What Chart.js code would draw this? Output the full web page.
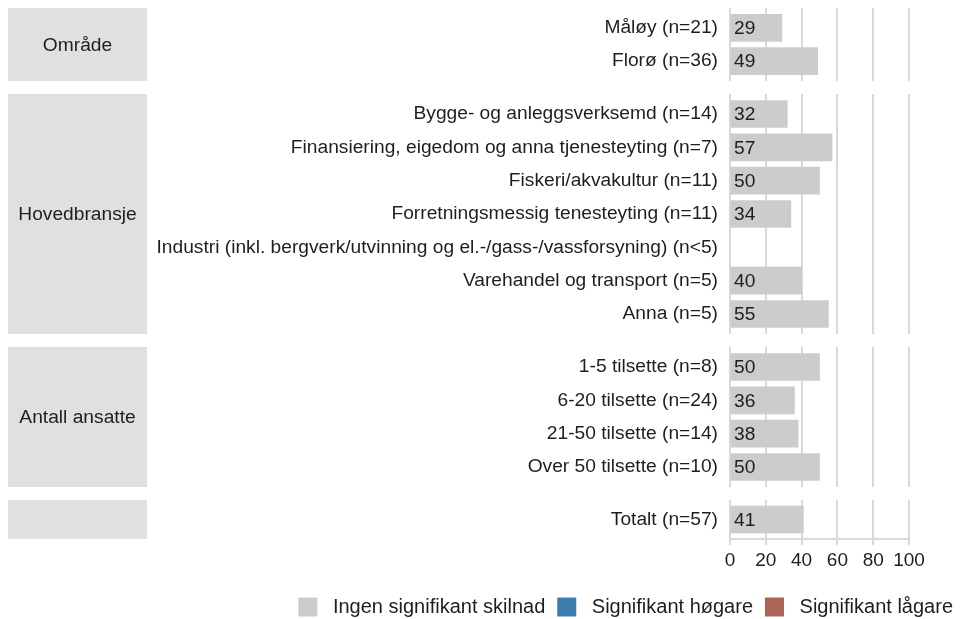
<!DOCTYPE html>
<html>
<head>
<meta charset="utf-8">
<script src="https://cdn.jsdelivr.net/npm/chart.js@4.4.1/dist/chart.umd.min.js"></script>
<style>
  html, body { margin: 0; padding: 0; background: #fff; overflow: hidden; }
  #wrap { position: relative; width: 962px; height: 619px; overflow: hidden; }
  .panel { position: absolute; left: 0; width: 965px; }
</style>
</head>
<body>
<div id="wrap"></div>
<script>
const FONT = "'Liberation Sans', Arial, sans-serif";

// facet groups (strip text on the left)
const stripNames = ["Område", "Hovedbransje", "Antall ansatte", ""];

const omradeLabels = ["Måløy (n=21)", "Florø (n=36)"];
const omradeValues = [29, 49];

const bransjeLabels = [
  "Bygge- og anleggsverksemd (n=14)",
  "Finansiering, eigedom og anna tjenesteyting (n=7)",
  "Fiskeri/akvakultur (n=11)",
  "Forretningsmessig tenesteyting (n=11)",
  "Industri (inkl. bergverk/utvinning og el.-/gass-/vassforsyning) (n<5)",
  "Varehandel og transport (n=5)",
  "Anna (n=5)"
];
const bransjeValues = [32, 57, 50, 34, null, 40, 55];

const ansatteLabels = ["1-5 tilsette (n=8)", "6-20 tilsette (n=24)", "21-50 tilsette (n=14)", "Over 50 tilsette (n=10)"];
const ansatteValues = [50, 36, 38, 50];

const totalLabels = ["Totalt (n=57)"];
const totalValues = [41];

const xTicks = [0, 20, 40, 60, 80, 100];

const legendLabels = ["Ingen signifikant skilnad", "Signifikant høgare", "Signifikant lågare"];
const legendColors = ["#cccccc", "#3d7cab", "#ab6455"];

const groups = [
  { labels: omradeLabels, values: omradeValues },
  { labels: bransjeLabels, values: bransjeValues },
  { labels: ansatteLabels, values: ansatteValues },
  { labels: totalLabels, values: totalValues }
];

// layout
const UNIT = 33.4;      // px per row
const TOP = 8;
const GAP = 13;
const AXIS_H = 46;      // tick marks + tick labels under last panel
const LEGEND_H = 41;
const GRID = "#d9d9d9";
const TEXT = "#1e1e1e";
const LABEL_SIZE = 19.2;

/* grey facet strip left of each panel */
const stripPlugin = {
  id: "strip",
  beforeDraw(chart, _args, opts) {
    const { ctx, chartArea: a } = chart;
    ctx.save();
    ctx.fillStyle = "#e0e0e0";
    ctx.fillRect(8, a.top, 139, a.bottom - a.top);
    if (opts.text) {
      ctx.fillStyle = TEXT;
      ctx.font = `${LABEL_SIZE}px ${FONT}`;
      ctx.textAlign = "center";
      ctx.textBaseline = "middle";
      ctx.fillText(opts.text, 77.5, (a.top + a.bottom) / 2 + 1);
    }
    ctx.restore();
  }
};

/* value printed at the left end of each bar */
const valueLabelPlugin = {
  id: "valueLabels",
  afterDatasetsDraw(chart) {
    const ctx = chart.ctx;
    const x0 = chart.scales.x.getPixelForValue(0);
    const ds = chart.data.datasets[0];
    const meta = chart.getDatasetMeta(0);
    ctx.save();
    ctx.fillStyle = TEXT;
    ctx.font = `${LABEL_SIZE}px ${FONT}`;
    ctx.textAlign = "left";
    ctx.textBaseline = "middle";
    meta.data.forEach((bar, i) => {
      const v = ds.data[i].x;
      if (v == null) return;
      ctx.fillText(String(v), x0 + 4, bar.y + 1);
    });
    ctx.restore();
  }
};
Chart.register(stripPlugin, valueLabelPlugin);

function noPad(s) {
  s.paddingTop = 0; s.paddingBottom = 0; s.paddingLeft = 0; s.paddingRight = 0;
}

function makePanel(idx, top) {
  const g = groups[idx];
  const n = g.labels.length;
  const last = idx === groups.length - 1;
  const h = Math.round((n + 0.2) * UNIT);

  const div = document.createElement("div");
  div.className = "panel";
  div.style.top = top + "px";
  div.style.height = (h + (last ? AXIS_H + LEGEND_H : 0)) + "px";
  const canvas = document.createElement("canvas");
  div.appendChild(canvas);
  document.getElementById("wrap").appendChild(div);

  const datasets = [{
    label: legendLabels[0],
    data: g.values.map((v, i) => ({ x: v, y: i })),
    backgroundColor: legendColors[0],
    barThickness: 27,
    grouped: false
  }];
  if (last) {
    // empty series so the legend lists every significance class
    for (let k = 1; k < legendLabels.length; k++) {
      datasets.push({ label: legendLabels[k], data: [], backgroundColor: legendColors[k], grouped: false });
    }
  }

  new Chart(canvas, {
    type: "bar",
    data: { datasets },
    options: {
      indexAxis: "y",
      responsive: true,
      maintainAspectRatio: false,
      animation: false,
      layout: { padding: 0 },
      scales: {
        x: {
          type: "linear",
          min: 0,
          max: 100,
          afterBuildTicks: s => { s.ticks = xTicks.map(v => ({ value: v })); },
          grid: { color: GRID, lineWidth: 2, drawTicks: last, tickLength: 6 },
          border: { display: last, color: GRID, width: 2 },
          ticks: {
            display: last, padding: 4, maxRotation: 0, minRotation: 0, autoSkip: false,
            color: TEXT, font: { family: FONT, size: 19 }
          },
          afterFit: s => { s.height = last ? AXIS_H : 0; noPad(s); }
        },
        y: {
          type: "linear",
          reverse: true,
          offset: false,
          min: -0.6,
          max: n - 0.4,
          afterBuildTicks: s => { s.ticks = g.labels.map((_, i) => ({ value: i })); },
          grid: { display: false, drawTicks: false, offset: false },
          border: { display: false },
          ticks: {
            autoSkip: false,
            padding: 12,
            color: TEXT,
            font: { family: FONT, size: LABEL_SIZE },
            callback: v => g.labels[v]
          },
          afterFit: s => { s.width = 730; noPad(s); }
        },
        yRight: {
          type: "linear",
          position: "right",
          display: true,
          grid: { display: false, drawTicks: false },
          border: { display: false },
          ticks: { display: false },
          afterFit: s => { s.width = 56; noPad(s); }
        }
      },
      plugins: {
        legend: {
          display: last,
          position: "bottom",
          align: "end",
          labels: {
            boxWidth: 19,
            boxHeight: 19,
            padding: 12,
            color: TEXT,
            font: { family: FONT, size: 20 },
            // a little extra room between key square and its text
            generateLabels: chart => Chart.defaults.plugins.legend.labels.generateLabels(chart)
              .map(item => ({ ...item, text: " " + item.text }))
          }
        },
        tooltip: { enabled: false },
        strip: { text: stripNames[idx] }
      }
    }
  });

  return top + h + GAP;
}

let y = TOP;
groups.forEach((_, i) => { y = makePanel(i, y); });
</script>
</body>
</html>
